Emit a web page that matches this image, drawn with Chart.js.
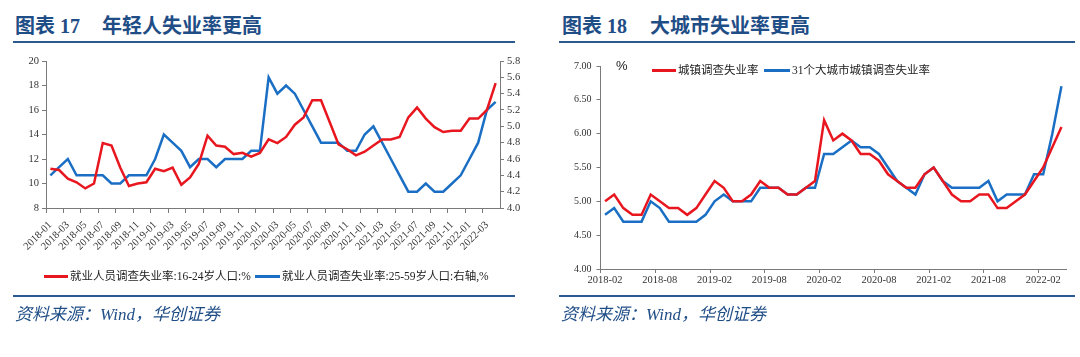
<!DOCTYPE html>
<html>
<head>
<meta charset="utf-8">
<script src="https://cdn.jsdelivr.net/npm/chart.js@4/dist/chart.umd.min.js"></script>
<style>
  html, body { margin: 0; padding: 0; background: #ffffff; }
  body { width: 1080px; height: 357px; position: relative; overflow: hidden;
         font-family: "Liberation Serif", "Noto Sans CJK SC", serif; }
  .abs { position: absolute; white-space: nowrap; }
  .title { font-size: 20px; line-height: 20px; font-weight: bold; color: #1f4d86; }
  .rule { position: absolute; height: 2px; background: #2b5a92; }
  .src { font-size: 17px; line-height: 18px; font-style: italic; color: #1f4d86; }
  .leg { font-size: 11.5px; line-height: 14px; color: #222; }
  .swatch { position: absolute; height: 3px; }
  canvas { position: absolute; }
</style>
</head>
<body>
<!-- left panel titles -->
<div class="abs title" style="left:15px; top:16px;">图表 17</div>
<div class="abs title" style="left:102px; top:16px;">年轻人失业率更高</div>
<div class="rule" style="left:13px; top:41px; width:502px;"></div>
<!-- right panel titles -->
<div class="abs title" style="left:562px; top:16px;">图表 18</div>
<div class="abs title" style="left:650px; top:16px;">大城市失业率更高</div>
<div class="rule" style="left:559px; top:41px; width:516px;"></div>

<canvas id="leftChart" width="540" height="240" style="left:0px; top:50px; width:540px; height:240px;"></canvas>
<canvas id="rightChart" width="540" height="240" style="left:540px; top:50px; width:540px; height:240px;"></canvas>

<!-- left legend -->
<div class="swatch" style="left:44px; top:275px; width:24px; background:#e8161f;"></div>
<div class="abs leg" style="left:70px; top:269px;">就业人员调查失业率:16-24岁人口:%</div>
<div class="swatch" style="left:255px; top:275px; width:25px; background:#1a6fc4;"></div>
<div class="abs leg" style="left:282px; top:269px;">就业人员调查失业率:25-59岁人口:右轴,%</div>

<!-- right legend -->
<div class="abs" style="left:616px; top:59px; font-size:13px; line-height:14px; color:#222; font-family:'Liberation Sans', sans-serif;">%</div>
<div class="swatch" style="left:652px; top:69px; width:24px; background:#e8161f;"></div>
<div class="abs leg" style="left:678px; top:63px;">城镇调查失业率</div>
<div class="swatch" style="left:764px; top:69px; width:26px; background:#1a6fc4;"></div>
<div class="abs leg" style="left:792px; top:63px;">31个大城市城镇调查失业率</div>

<!-- bottom rules and sources -->
<div class="rule" style="left:13px; top:295px; width:502px;"></div>
<div class="abs src" style="left:15px; top:306px;">资料来源：Wind，华创证券</div>
<div class="rule" style="left:559px; top:295px; width:516px;"></div>
<div class="abs src" style="left:561px; top:306px;">资料来源：Wind，华创证券</div>

<script>
// ---------------- DATA ----------------
// Left chart: monthly, 2018-01 .. 2022-04
const leftMonths = [
  '2018-01','2018-02','2018-03','2018-04','2018-05','2018-06','2018-07','2018-08','2018-09','2018-10','2018-11','2018-12',
  '2019-01','2019-02','2019-03','2019-04','2019-05','2019-06','2019-07','2019-08','2019-09','2019-10','2019-11','2019-12',
  '2020-01','2020-02','2020-03','2020-04','2020-05','2020-06','2020-07','2020-08','2020-09','2020-10','2020-11','2020-12',
  '2021-01','2021-02','2021-03','2021-04','2021-05','2021-06','2021-07','2021-08','2021-09','2021-10','2021-11','2021-12',
  '2022-01','2022-02','2022-03','2022-04'
];
// 就业人员调查失业率:16-24岁人口 (left axis, %)
const youthRate = [
  11.2, 11.1, 10.4, 10.1, 9.6, 10.0, 13.3, 13.1, 11.3, 9.8, 10.0, 10.1,
  11.2, 11.0, 11.3, 9.9, 10.5, 11.6, 13.9, 13.1, 13.0, 12.4, 12.5, 12.2,
  12.5, 13.6, 13.3, 13.8, 14.8, 15.4, 16.8, 16.8, 15.0, 13.2, 12.8, 12.3,
  12.6, 13.1, 13.6, 13.6, 13.8, 15.4, 16.2, 15.3, 14.6, 14.2, 14.3, 14.3,
  15.3, 15.3, 16.0, 18.2
];
// 就业人员调查失业率:25-59岁人口 (right axis, %)
const primeAgeRate = [
  4.4, 4.5, 4.6, 4.4, 4.4, 4.4, 4.4, 4.3, 4.3, 4.4, 4.4, 4.4,
  4.6, 4.9, 4.8, 4.7, 4.5, 4.6, 4.6, 4.5, 4.6, 4.6, 4.6, 4.7,
  4.7, 5.6, 5.4, 5.5, 5.4, 5.2, 5.0, 4.8, 4.8, 4.8, 4.7, 4.7,
  4.9, 5.0, 4.8, 4.6, 4.4, 4.2, 4.2, 4.3, 4.2, 4.2, 4.3, 4.4,
  4.6, 4.8, 5.2, 5.3
];
const leftXTickLabels = [
  '2018-01','2018-03','2018-05','2018-07','2018-09','2018-11',
  '2019-01','2019-03','2019-05','2019-07','2019-09','2019-11',
  '2020-01','2020-03','2020-05','2020-07','2020-09','2020-11',
  '2021-01','2021-03','2021-05','2021-07','2021-09','2021-11',
  '2022-01','2022-03'
];
const leftAxisTicks = [8, 10, 12, 14, 16, 18, 20];
const leftRightAxisTicks = [4.0, 4.2, 4.4, 4.6, 4.8, 5.0, 5.2, 5.4, 5.6, 5.8];

// Right chart: monthly, 2018-02 .. 2022-04
const rightMonths = [
  '2018-02','2018-03','2018-04','2018-05','2018-06','2018-07','2018-08','2018-09','2018-10','2018-11','2018-12',
  '2019-01','2019-02','2019-03','2019-04','2019-05','2019-06','2019-07','2019-08','2019-09','2019-10','2019-11','2019-12',
  '2020-01','2020-02','2020-03','2020-04','2020-05','2020-06','2020-07','2020-08','2020-09','2020-10','2020-11','2020-12',
  '2021-01','2021-02','2021-03','2021-04','2021-05','2021-06','2021-07','2021-08','2021-09','2021-10','2021-11','2021-12',
  '2022-01','2022-02','2022-03','2022-04'
];
// 城镇调查失业率
const urbanRate = [
  5.0, 5.1, 4.9, 4.8, 4.8, 5.1, 5.0, 4.9, 4.9, 4.8, 4.9,
  5.1, 5.3, 5.2, 5.0, 5.0, 5.1, 5.3, 5.2, 5.2, 5.1, 5.1, 5.2,
  5.3, 6.2, 5.9, 6.0, 5.9, 5.7, 5.7, 5.6, 5.4, 5.3, 5.2, 5.2,
  5.4, 5.5, 5.3, 5.1, 5.0, 5.0, 5.1, 5.1, 4.9, 4.9, 5.0, 5.1,
  5.3, 5.5, 5.8, 6.1
];
// 31个大城市城镇调查失业率
const bigCityRate = [
  4.8, 4.9, 4.7, 4.7, 4.7, 5.0, 4.9, 4.7, 4.7, 4.7, 4.7,
  4.8, 5.0, 5.1, 5.0, 5.0, 5.0, 5.2, 5.2, 5.2, 5.1, 5.1, 5.2,
  5.2, 5.7, 5.7, 5.8, 5.9, 5.8, 5.8, 5.7, 5.5, 5.3, 5.2, 5.1,
  5.4, 5.5, 5.3, 5.2, 5.2, 5.2, 5.2, 5.3, 5.0, 5.1, 5.1, 5.1,
  5.4, 5.4, 6.0, 6.7
];
const rightXTickLabels = ['2018-02','2018-08','2019-02','2019-08','2020-02','2020-08','2021-02','2021-08','2022-02'];
const rightAxisTicks = [4.0, 4.5, 5.0, 5.5, 6.0, 6.5, 7.0];

// ---------------- STYLE ----------------
const RED = '#e8161f';
const BLUE = '#1a6fc4';
const AXIS = '#7a7a7a';
const TICKTXT = '#333333';
const SERIF = "'Liberation Serif', 'Times New Roman', serif";

Chart.defaults.font.family = SERIF;
Chart.defaults.color = TICKTXT;

function lineDs(label, data, color, axis) {
  return {
    label, data, yAxisID: axis,
    borderColor: color, backgroundColor: color,
    borderWidth: 2.5, pointRadius: 0, pointHoverRadius: 0,
    tension: 0, fill: false, borderJoinStyle: 'miter'
  };
}

function fixedTicks(arr) {
  return function (axis) { axis.ticks = arr.map(v => ({ value: v })); };
}

function xTickColor(labels, shown) {
  const set = new Set(shown);
  return function (ctx) {
    if (ctx.index === undefined || ctx.index >= labels.length) return 'rgba(0,0,0,0)';
    return set.has(labels[ctx.index]) ? AXIS : 'rgba(0,0,0,0)';
  };
}

// ---------------- LEFT CHART ----------------
const leftShown = new Set(leftXTickLabels);
new Chart(document.getElementById('leftChart'), {
  type: 'line',
  data: {
    labels: leftMonths,
    datasets: [
      lineDs('就业人员调查失业率:16-24岁人口:%', youthRate, RED, 'y'),
      lineDs('就业人员调查失业率:25-59岁人口:右轴,%', primeAgeRate, BLUE, 'y1')
    ]
  },
  options: {
    responsive: false, animation: false, devicePixelRatio: 1,
    layout: { padding: { top: 11, left: 0, right: 0, bottom: 0 } },
    plugins: { legend: { display: false }, tooltip: { enabled: false } },
    scales: {
      x: {
        type: 'category', offset: true,
        afterFit: (s) => { s.height = 82; },
        border: { color: AXIS, width: 1 },
        grid: { offset: true, drawOnChartArea: false, tickLength: 5,
                color: xTickColor(leftMonths, leftXTickLabels),
                tickColor: xTickColor(leftMonths, leftXTickLabels) },
        ticks: {
          autoSkip: false, minRotation: 45, maxRotation: 45, padding: 6,
          font: { family: SERIF, size: 10.5 }, color: TICKTXT,
          callback: function (v, i) { const l = leftMonths[i]; return leftShown.has(l) ? l : ''; }
        }
      },
      y: {
        position: 'left', min: 8, max: 20,
        afterFit: (s) => { s.width = 46; },
        afterBuildTicks: fixedTicks(leftAxisTicks),
        border: { color: AXIS, width: 1 },
        grid: { drawOnChartArea: false, tickLength: 4, color: AXIS },
        ticks: { font: { family: SERIF, size: 10.5 }, color: TICKTXT, padding: 3,
                 callback: (v) => String(v) }
      },
      y1: {
        position: 'right', min: 4.0, max: 5.8,
        afterFit: (s) => { s.width = 40; },
        afterBuildTicks: fixedTicks(leftRightAxisTicks),
        border: { color: AXIS, width: 1 },
        grid: { drawOnChartArea: false, tickLength: 4, color: AXIS },
        ticks: { font: { family: SERIF, size: 10.5 }, color: TICKTXT, padding: 3,
                 callback: (v) => Number(v).toFixed(1) }
      }
    }
  }
});

// ---------------- RIGHT CHART ----------------
const rightShown = new Set(rightXTickLabels);
new Chart(document.getElementById('rightChart'), {
  type: 'line',
  data: {
    labels: rightMonths,
    datasets: [
      lineDs('城镇调查失业率', urbanRate, RED, 'y'),
      lineDs('31个大城市城镇调查失业率', bigCityRate, BLUE, 'y')
    ]
  },
  options: {
    responsive: false, animation: false, devicePixelRatio: 1,
    layout: { padding: { top: 16, left: 0, right: 14, bottom: 0 } },
    plugins: { legend: { display: false }, tooltip: { enabled: false } },
    scales: {
      x: {
        type: 'category', offset: true,
        afterFit: (s) => { s.height = 21; },
        border: { color: AXIS, width: 1 },
        grid: { offset: true, drawOnChartArea: false, tickLength: 4,
                color: xTickColor(rightMonths, rightXTickLabels),
                tickColor: xTickColor(rightMonths, rightXTickLabels) },
        ticks: {
          autoSkip: false, minRotation: 0, maxRotation: 0, padding: 1,
          font: { family: SERIF, size: 10.5 }, color: TICKTXT,
          callback: function (v, i) { const l = rightMonths[i]; return rightShown.has(l) ? l : ''; }
        }
      },
      y: {
        position: 'left', min: 4, max: 7,
        afterFit: (s) => { s.width = 60.5; },
        afterBuildTicks: fixedTicks(rightAxisTicks),
        border: { color: AXIS, width: 1 },
        grid: { drawOnChartArea: false, tickLength: 4, color: AXIS },
        ticks: { font: { family: SERIF, size: 10 }, color: TICKTXT, padding: 5,
                 callback: (v) => Number(v).toFixed(2) }
      }
    }
  }
});
</script>
</body>
</html>
